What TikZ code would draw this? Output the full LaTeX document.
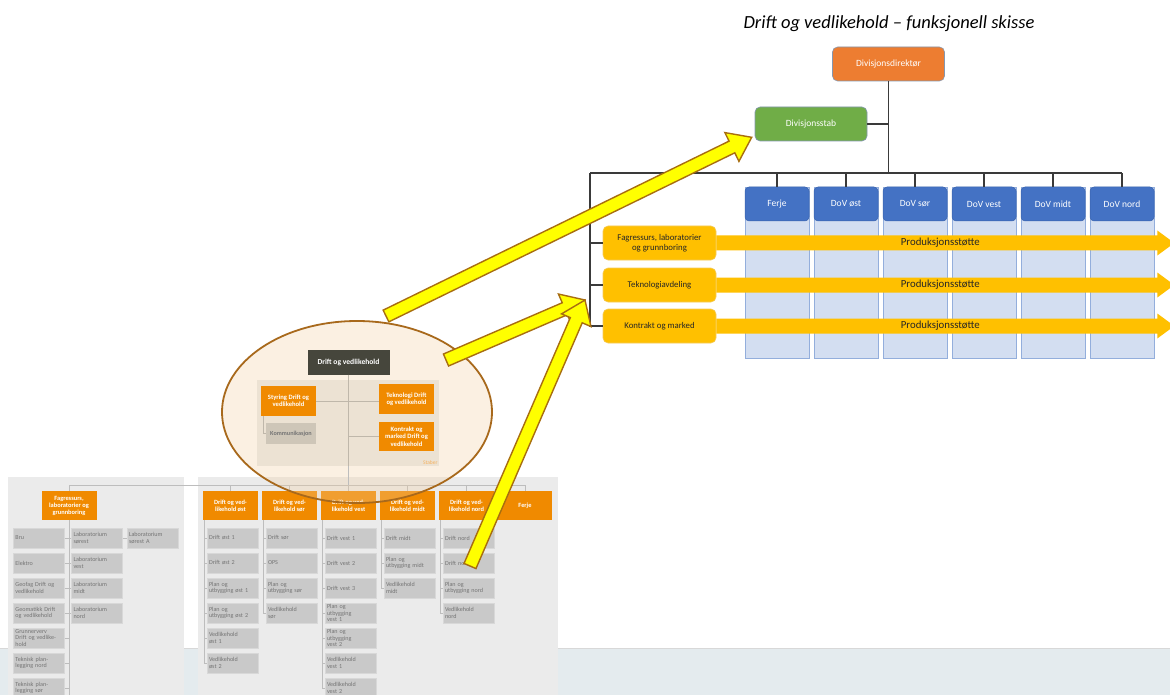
\documentclass[tikz,border=0pt]{standalone}
\usepackage{fontspec}
\setmainfont{Carlito}
\usetikzlibrary{calc,shapes.geometric}

\definecolor{divorange}{HTML}{ED7D31}
\definecolor{divgreen}{HTML}{70AD47}
\definecolor{boxedge}{HTML}{8497B0}
\definecolor{headblue}{HTML}{4472C4}
\definecolor{headedge}{HTML}{3A63AD}
\definecolor{colblue}{HTML}{D3DEF1}
\definecolor{coledge}{HTML}{93AEDC}
\definecolor{sidegold}{HTML}{FFC000}
\definecolor{sideedge}{HTML}{F4CB5A}
\definecolor{linegray}{HTML}{3A3A3A}
\definecolor{darktext}{HTML}{262626}
\definecolor{oldorange}{HTML}{F08A00}
\definecolor{oldfill}{HTML}{C9C9C9}
\definecolor{oldedge}{HTML}{D8D8D8}
\definecolor{oldtext}{HTML}{747474}
\definecolor{oldpanel}{HTML}{EBEBEB}
\definecolor{oldline}{HTML}{BDBDBD}
\definecolor{bandblue}{HTML}{E4EBEE}
\definecolor{dovdark}{HTML}{46463C}
\definecolor{lenscream}{HTML}{F2CFA2}
\definecolor{lensbrown}{HTML}{A8691C}
\definecolor{stabertint}{HTML}{ECE2D3}
\definecolor{kommtint}{HTML}{CEC6B8}
\definecolor{innerline}{HTML}{BFB7AA}
\definecolor{staberorange}{HTML}{F6B25E}
\definecolor{yellowfill}{HTML}{FFFF00}
\definecolor{yellowedge}{HTML}{A86E10}

\tikzset{
  orgline/.style={draw=linegray, line width=1.6pt},
  dirbox/.style={draw=boxedge, line width=0.6pt, rounded corners=5pt,
    minimum width=112pt, minimum height=34pt, text=white,
    font=\fontsize{9.5}{11}\selectfont},
  headbox/.style={draw=headedge, line width=0.5pt, fill=headblue, rounded corners=4pt,
    minimum width=64pt, minimum height=34pt, text=white,
    font=\fontsize{9.5}{11}\selectfont},
  colbox/.style={draw=coledge, line width=0.6pt, fill=colblue,
    minimum width=64pt, minimum height=171pt},
  sidebox/.style={draw=sideedge, line width=0.6pt, fill=sidegold, rounded corners=5pt,
    minimum width=113pt, minimum height=34pt, align=center, text=darktext,
    font=\fontsize{8.8}{10.5}\selectfont},
  prodtext/.style={text=darktext, font=\fontsize{10.8}{12}\selectfont},
  oldline/.style={draw=oldline, line width=0.6pt},
  oldhead/.style={fill=oldorange, minimum width=55pt, minimum height=29pt, inner sep=1pt,
    align=center, text=white, font=\bfseries\fontsize{6.4}{7}\selectfont},
  oldbox/.style={fill=oldfill, draw=oldedge, line width=0.5pt, minimum width=51pt,
    minimum height=20pt, text width=47pt, inner xsep=2pt, inner ysep=0pt,
    align=left, text=oldtext, font=\fontsize{6.1}{6.4}\selectfont},
  innerorange/.style={fill=oldorange, minimum width=55pt, minimum height=30pt, inner sep=1pt,
    align=center, text=white, font=\bfseries\fontsize{6.6}{7.4}\selectfont},
  lens/.style={ellipse, minimum width=270pt, minimum height=182pt, fill=lenscream,
    fill opacity=0.3},
  fatarrow/.style={fill=yellowfill, draw=yellowedge, line width=1.4pt, line join=miter}
}

% fat yellow arrow from #1 (tail) to #2 (tip)
\newcommand\fatarrow[2]{%
  \draw[fatarrow] let \p1=($(#2)-(#1)$), \n1={atan2(\y1,\x1)}, \n2={veclen(\x1,\y1)} in
    [shift={(#1)}, rotate=\n1] (0,-6.5) -- (\n2-22,-6.5) -- (\n2-22,-16) -- (\n2,0)
    -- (\n2-22,16) -- (\n2-22,6.5) -- (0,6.5) -- cycle;}

% production support arrow out of side box #1
\newcommand\prodarrow[2]{%
  \fill[sidegold] (#1.east) ++(0,-7.5) -- ++(441,0) -- ++(0,-5) -- ++(17,12.5)
    -- ++(-17,12.5) -- ++(0,-5) -- ++(-441,0) -- cycle;
  \path (#1.east) ++(224,0) node[prodtext] (#2) {Produksjonsstøtte};}

\begin{document}
\begin{tikzpicture}[x=1pt, y=-1pt]
\useasboundingbox (0,0) rectangle (1170,695);
\clip (0,0) rectangle (1170,695);
\fill[white] (0,0) rectangle (1170,695);

% old chart in the background
\fill[bandblue] (0,648) rectangle (1170,695);
\draw[oldedge, line width=1pt] (0,648) -- (1170,648);
\fill[oldpanel] (8,477) rectangle (184,695);
\fill[oldpanel] (198,477) rectangle (558,695);
\coordinate (obus) at (0,485);

\node[oldhead] (hFag) at (69,505.5) {Fagressurs,\\laboratorier og\\grunnboring};
\node[oldhead] (hOst) at (230.5,505.5) {Drift og ved-\\likehold øst};
\node[oldhead] (hSor) at (289.5,505.5) {Drift og ved-\\likehold sør};
\node[oldhead] (hVest) at (348.5,505.5) {Drift og ved-\\likehold vest};
\node[oldhead] (hMidt) at (407.5,505.5) {Drift og ved-\\likehold midt};
\node[oldhead] (hNord) at (466.5,505.5) {Drift og ved-\\likehold nord};
\node[oldhead, minimum width=54pt] (hFerje) at (525,505.5) {Ferje};
\draw[oldline] (hFag.north) -- (hFag.north |- obus) -- (hFerje.north |- obus) -- (hFerje.north);
\foreach \h in {hOst,hSor,hVest,hMidt,hNord}
  \draw[oldline] (\h.north) -- (\h.north |- obus);

\foreach \txt [count=\i from 0] in {Bru, Elektro, {Geofag Drift og\\vedlikehold},
    {Geomatikk Drift\\og vedlikehold}, {Grunnerverv\\Drift og vedlike-\\hold},
    {Teknisk plan-\\legging nord}, {Teknisk plan-\\legging sør}}
  \node[oldbox] (fa\i) at (39,{538+25*\i}) {\txt};
\foreach \txt [count=\i from 0] in {{Laboratorium\\sørest}, {Laboratorium\\vest},
    {Laboratorium\\midt}, {Laboratorium\\nord}}
  \node[oldbox] (lb\i) at (97,{538+25*\i}) {\txt};
\node[oldbox] (lbA) at (152.5,538) {Laboratorium\\sørest A};
\draw[oldline] (hFag.south) -- (hFag.south |- fa6.south);
\foreach \i in {0,...,6}
  \draw[oldline] (fa\i.east) -- (fa\i.east -| hFag.south);
\foreach \i in {0,...,3}
  \draw[oldline] (lb\i.west) -- (lb\i.west -| hFag.south);
\draw[oldline] (lb0.east) -- (lbA.west);

\foreach \txt [count=\i from 0] in {Drift øst 1, Drift øst 2, {Plan og\\utbygging øst 1},
    {Plan og\\utbygging øst 2}, {Vedlikehold\\øst 1}, {Vedlikehold\\øst 2}}
  \node[oldbox] (os\i) at (232.5,{538+25*\i}) {\txt};
\draw[oldline] ([xshift=1pt]hOst.south west) |- (os5.west);
\foreach \i in {0,...,4}
  \draw[oldline] (os\i.west) -- ([xshift=1pt]os\i.west -| hOst.south west);

\foreach \txt [count=\i from 0] in {Drift sør, OPS, {Plan og\\utbygging sør}, {Vedlikehold\\sør}}
  \node[oldbox] (so\i) at (291.5,{538+25*\i}) {\txt};
\draw[oldline] ([xshift=1pt]hSor.south west) |- (so3.west);
\foreach \i in {0,...,2}
  \draw[oldline] (so\i.west) -- ([xshift=1pt]so\i.west -| hSor.south west);

\foreach \txt [count=\i from 0] in {Drift vest 1, Drift vest 2, Drift vest 3,
    {Plan og\\utbygging\\vest 1}, {Plan og\\utbygging\\vest 2}, {Vedlikehold\\vest 1},
    {Vedlikehold\\vest 2}}
  \node[oldbox] (ve\i) at (350.5,{538+25*\i}) {\txt};
\draw[oldline] ([xshift=1pt]hVest.south west) |- (ve6.west);
\foreach \i in {0,...,5}
  \draw[oldline] (ve\i.west) -- ([xshift=1pt]ve\i.west -| hVest.south west);

\foreach \txt [count=\i from 0] in {Drift midt, {Plan og\\utbygging midt}, {Vedlikehold\\midt}}
  \node[oldbox] (mi\i) at (409.5,{538+25*\i}) {\txt};
\draw[oldline] ([xshift=1pt]hMidt.south west) |- (mi2.west);
\foreach \i in {0,...,1}
  \draw[oldline] (mi\i.west) -- ([xshift=1pt]mi\i.west -| hMidt.south west);

\foreach \txt [count=\i from 0] in {Drift nord, Drift nord, {Plan og\\utbygging nord},
    {Vedlikehold\\nord}}
  \node[oldbox] (no\i) at (468.5,{538+25*\i}) {\txt};
\draw[oldline] ([xshift=1pt]hNord.south west) |- (no3.west);
\foreach \i in {0,...,2}
  \draw[oldline] (no\i.west) -- ([xshift=1pt]no\i.west -| hNord.south west);

% lens over the old chart
\node[lens] (lens) at (357,412) {};
\node[fill=stabertint, minimum width=182pt, minimum height=86pt] (staber) at (348,423) {};
\node[anchor=south east, inner sep=1.5pt, text=staberorange, font=\fontsize{5.5}{6}\selectfont]
  (staberlbl) at (staber.south east) {Staber};
\node[fill=dovdark, minimum width=82pt, minimum height=25pt, text=white,
  font=\bfseries\fontsize{7.6}{8}\selectfont] (dov) at (348.5,362) {Drift og vedlikehold};
\node[innerorange] (styring) at (288.5,401) {Styring Drift og\\vedlikehold};
\node[innerorange] (tekndov) at (406.5,399) {Teknologi Drift\\og vedlikehold};
\node[innerorange, minimum height=29pt] (kontrdov) at (406.5,436.5) {Kontrakt og\\marked Drift og\\vedlikehold};
\node[fill=kommtint, minimum width=50pt, minimum height=21pt, inner sep=0pt, text=oldtext,
  font=\bfseries\fontsize{6.2}{6.6}\selectfont] (komm) at (291,433.5) {Kommunikasjon};
\draw[draw=innerline, line width=0.6pt] (dov.south) -- (dov.south |- staber.south);
\draw[oldline] (staber.south -| dov.south) -- (dov.south |- obus);
\draw[draw=innerline, line width=0.6pt] (styring.east) -- (styring.east -| tekndov.west);
\draw[draw=innerline, line width=0.6pt] (kontrdov.west) -- (kontrdov.west -| dov.south);
\draw[draw=innerline, line width=0.6pt] ([xshift=2pt]styring.south west) |- (komm.west);
\draw[lensbrown, line width=1.8pt] (lens.center) ellipse [x radius=135pt, y radius=91pt];

% new chart
\node[font=\itshape\fontsize{18.5}{22}\selectfont] (title) at (889,24)
  {Drift og vedlikehold -- funksjonell skisse};
\node[dirbox, fill=divorange] (dir) at (888.5,64) {Divisjonsdirektør};
\node[dirbox, fill=divgreen] (stab) at (811,124) {Divisjonsstab};
\coordinate (bus) at (888.5,173);
\coordinate (busL) at (590,173);
\draw[orgline] (dir.south) -- (bus);
\draw[orgline] (stab.east) -- (stab.east -| bus);

\foreach \nm/\txt [count=\i from 0] in {ferje/Ferje, dovost/DoV øst, dovsor/DoV sør,
    dovvest/DoV vest, dovmidt/DoV midt, dovnord/DoV nord}{
  \node[colbox] (col\nm) at ({777+69*\i},272.5) {};
  \node[headbox] (\nm) at ({777+69*\i},204) {\txt};
  \draw[orgline] (\nm.north) -- (\nm.north |- bus);
}
\draw[orgline] (busL) -- (dovnord.north |- bus);

\node[sidebox] (fag) at (659.5,243) {Fagressurs, laboratorier\\og grunnboring};
\node[sidebox] (tekno) at (659.5,285) {Teknologiavdeling};
\node[sidebox] (kontrakt) at (659.5,326) {Kontrakt og marked};
\draw[orgline] (busL) |- (kontrakt.west);
\draw[orgline] (fag.west -| busL) -- (fag.west);
\draw[orgline] (tekno.west -| busL) -- (tekno.west);

\prodarrow{fag}{prodA}
\prodarrow{tekno}{prodB}
\prodarrow{kontrakt}{prodC}

% yellow arrows
\coordinate (tailA) at (386,316);
\coordinate (tailB) at (446,360);
\coordinate (tailC) at (470,566);
\coordinate (target) at (585,300);
\fatarrow{tailA}{[xshift=-3pt,yshift=4pt]stab.south west}
\fatarrow{tailB}{target}
\fatarrow{tailC}{target}
\end{tikzpicture}
\end{document}
